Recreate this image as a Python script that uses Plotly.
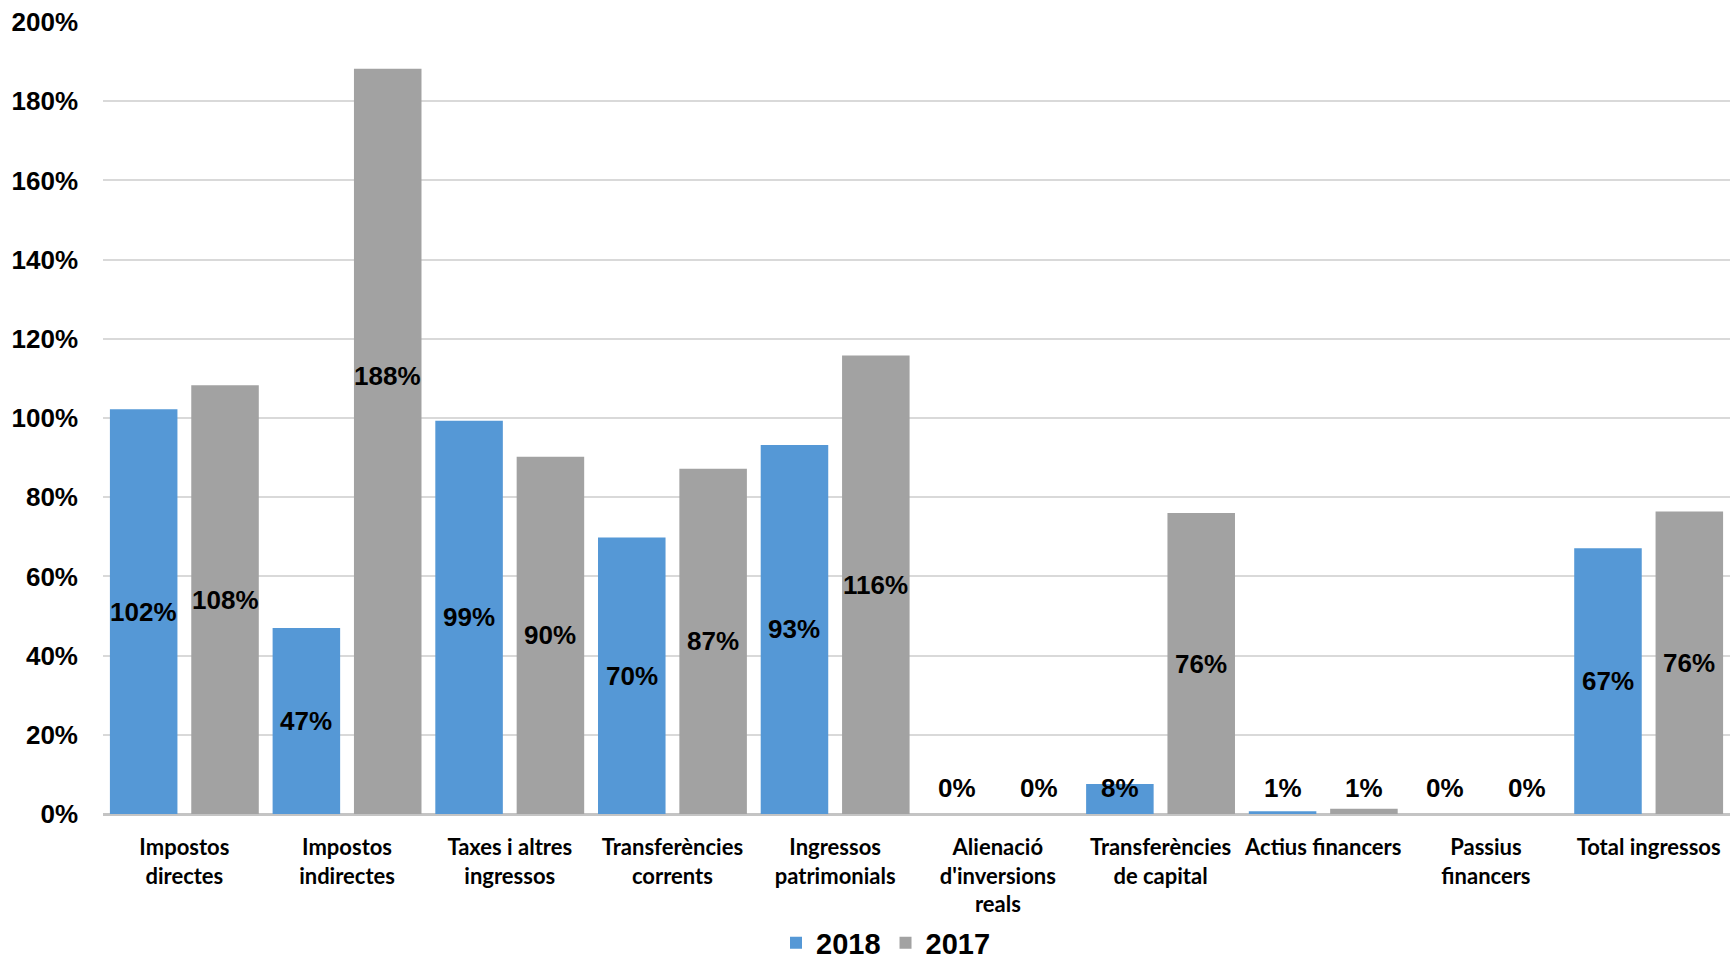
import plotly.graph_objects as go

categories = [
    "Impostos<br>directes",
    "Impostos<br>indirectes",
    "Taxes i altres<br>ingressos",
    "Transferències<br>corrents",
    "Ingressos<br>patrimonials",
    "Alienació<br>d'inversions<br>reals",
    "Transferències<br>de capital",
    "Actius financers",
    "Passius<br>financers",
    "Total ingressos",
]
values_2018 = [102.2, 47.0, 99.3, 69.8, 93.2, 0.0, 7.6, 0.7, 0.0, 67.1]
values_2017 = [108.3, 188.2, 90.2, 87.2, 115.8, 0.0, 76.0, 1.3, 0.0, 76.4]
labels_2018 = ["102%", "47%", "99%", "70%", "93%", "0%", "8%", "1%", "0%", "67%"]
labels_2017 = ["108%", "188%", "90%", "87%", "116%", "0%", "76%", "1%", "0%", "76%"]
y_ticks = [0, 20, 40, 60, 80, 100, 120, 140, 160, 180, 200]

W, H = 1730, 961
M_L, M_R, M_T, M_B = 103, 0, 22, 147
Y_MAX = 200

BLUE = "#5598d6"
GRAY = "#a2a2a2"

fig = go.Figure()
fig.add_trace(go.Bar(name="<b>2018</b>", x=categories, y=values_2018, marker=dict(color=BLUE, line=dict(width=0))))
fig.add_trace(go.Bar(name="<b>2017</b>", x=categories, y=values_2017, marker=dict(color=GRAY, line=dict(width=0))))

plot_w = W - M_L - M_R
plot_h = H - M_T - M_B
slot = plot_w / len(categories) / 2
min_label = 26 * Y_MAX / plot_h  # keep tiny-bar labels just above the axis
label_override = {(1, 1): 110.5}  # 188% label sits higher in the original

annotations = []
for s, (vals, labs) in enumerate([(values_2018, labels_2018), (values_2017, labels_2017)]):
    shift = -slot / 2 if s == 0 else slot / 2
    for i, (v, lab) in enumerate(zip(vals, labs)):
        y = label_override.get((i, s), max(v / 2, min_label))
        annotations.append(dict(
            x=categories[i], y=y, xref="x", yref="y", text=f"<b>{lab}</b>", showarrow=False,
            xshift=shift, font=dict(family="Liberation Sans", size=26, color="black"),
        ))

fig.update_layout(
    width=W, height=H,
    margin=dict(l=M_L, r=M_R, t=M_T, b=M_B, autoexpand=False),
    paper_bgcolor="white", plot_bgcolor="white",
    barmode="group", bargap=0.0, bargroupgap=0.17,
    annotations=annotations,
    legend=dict(
        orientation="h", xref="container", yref="container",
        x=886 / W, xanchor="center", y=18 / H, yanchor="middle",
        font=dict(family="Liberation Sans", size=29, color="black"),
        traceorder="normal", bgcolor="rgba(0,0,0,0)",
    ),
    font=dict(family="Liberation Sans", color="black"),
)
fig.update_yaxes(
    range=[0, Y_MAX], tickvals=y_ticks, ticktext=[f"<b>{t}%</b>" for t in y_ticks],
    showgrid=True, gridcolor="#d9d9d9", gridwidth=1.5,
    zeroline=True, zerolinecolor="#c4c4c4", zerolinewidth=2.5,
    tickfont=dict(family="Liberation Sans", size=26, color="black"),
    ticks="", ticklabelstandoff=24, fixedrange=True,
)
fig.update_xaxes(
    tickvals=categories, ticktext=[f"<b>{c}</b>" for c in categories],
    tickfont=dict(family="Lato", size=22, color="black"),
    ticks="", ticklabelstandoff=18, showline=False,
)

fig.write_html("out.html", config={"displayModeBar": False},
               post_script="document.body.style.margin='0';")
